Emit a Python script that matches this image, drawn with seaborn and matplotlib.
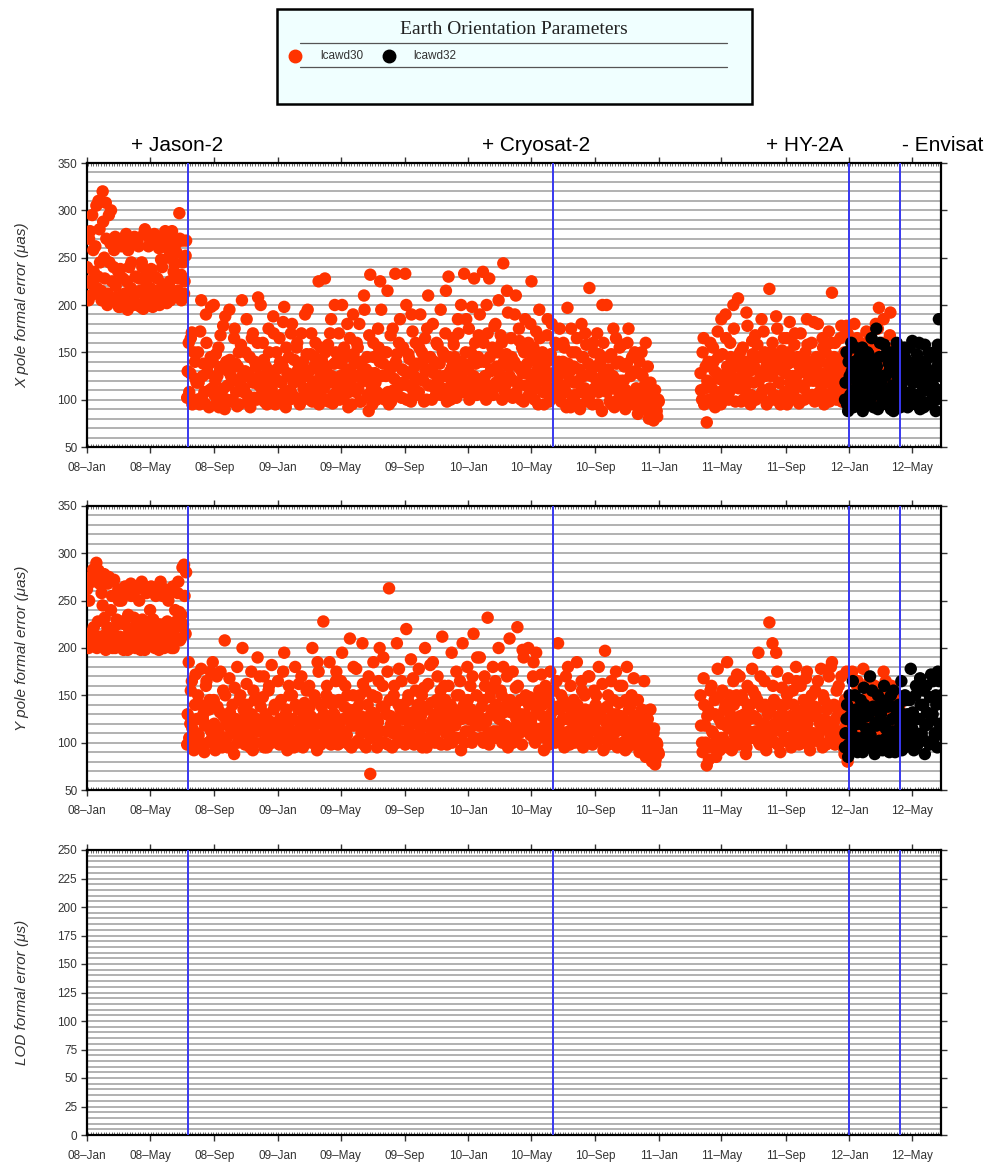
import numpy as np
import pandas as pd
import matplotlib
matplotlib.use("Agg")
import matplotlib.pyplot as plt
import matplotlib.dates as mdates
from matplotlib.ticker import MultipleLocator
from matplotlib.lines import Line2D
from matplotlib.patches import Rectangle
import seaborn as sns

# ---------------- data ----------------
# Two interleaved 3-day samplings per segment (list "…2" is one day later).
solutions = ["lcawd30", "lcawd32"]
colors = ["#FF3300", "#000000"]

seg_starts = ["2008-01-01", "2008-07-11", "2011-03-22"]   # lcawd30 segments
seg_starts_2 = ["2008-01-02", "2008-07-12", "2011-03-23"]
lcawd32_start = "2011-12-24"
lcawd32_start_2 = "2011-12-25"

x30_a = [240, 205, 278, 222, 258, 212, 305, 230, 280, 215, 320,
         250, 308, 200, 295, 265, 225, 240, 272, 208, 235,
         198, 262, 228, 212, 275, 195, 240, 218, 265, 205,
         230, 200, 262, 215, 245, 196, 280, 222, 208, 270,
         238, 198, 275, 212, 228, 260, 205, 240, 218, 278,
         202, 250, 225, 272, 210, 243, 265, 215, 297, 232,
         268, 212, 252]
x30_a2 = [225, 270, 210, 295, 235, 262, 218, 310, 245, 205, 288,
          228, 270, 212, 245, 300, 205, 258, 220, 268, 198,
          238, 210, 270, 202, 225, 258, 215, 245, 200, 272,
          212, 268, 228, 198, 240, 275, 205, 232, 262, 218,
          205, 265, 230, 215, 272, 200, 248, 222, 268, 210,
          260, 220, 205, 278, 235, 212, 255, 228, 270, 205,
          245, 225, 268]
x30_b = [102, 160, 128, 171, 98, 140, 118,
         150, 95, 205, 125, 108, 190, 135, 92, 145, 112,
         200, 120, 98, 155, 132, 105, 178, 90, 140, 115,
         195, 125, 100, 165, 138, 93, 150, 118, 205, 108,
         130, 185, 97, 145, 122, 170, 102, 135, 160, 115,
         200, 108, 142, 125, 95, 175, 130, 112, 188, 100,
         150, 120, 165, 105, 135, 198, 92, 128, 145, 110,
         180, 118, 102, 155, 132, 95, 170, 140, 108, 125,
         195, 112, 148, 98, 135, 160, 120, 225, 105, 142,
         128, 228, 100, 158, 118, 185, 96, 138, 150, 110,
         170, 125, 200, 102, 145, 132, 92, 165, 115, 190,
         138, 108, 155, 180, 98, 130, 210, 120, 145, 88,
         232, 112, 160, 128, 100, 175, 140, 195, 105, 150,
         125, 215, 95, 168, 135, 110, 233, 148, 118, 185,
         102, 155, 130, 200, 115, 143, 98, 172, 125, 160,
         138, 108, 190, 150, 120, 165, 100, 210, 132, 115,
         180, 140, 105, 158, 125, 195, 112, 148, 170, 98,
         230, 130, 118, 165, 145, 102, 185, 135, 200, 122,
         233, 150, 110, 175, 138, 198, 125, 160, 105, 145,
         190, 118, 235, 140, 100, 170, 228, 130, 155, 112,
         180, 135, 205, 120, 160, 244, 108, 148, 192, 125,
         165, 102, 140, 210, 118, 175, 132, 155, 98, 185,
         128, 160, 112, 225, 145, 100, 172, 138, 195, 120,
         150, 95, 130, 168, 110, 142, 180, 102, 125, 158,
         118, 175, 98, 140, 155, 108, 197, 128, 92, 150,
         135, 105, 165, 120, 90, 180, 145, 112, 158, 100,
         218, 130, 95, 150, 122, 170, 108, 140, 88, 160,
         115, 200, 132, 98, 148, 125, 92, 165, 110, 140,
         105, 158, 120, 90, 138, 175, 100, 128, 95, 150,
         112, 85, 140, 100, 125, 92, 160, 105, 80, 118,
         95, 78, 110, 88, 100]
x30_b2 = [130, 108, 165, 95, 150, 122, 100,
          118, 172, 102, 138, 96, 160, 128, 110, 198, 140,
          105, 148, 125, 92, 168, 135, 112, 188, 100, 130,
          142, 98, 120, 175, 108, 135, 95, 158, 125, 112,
          150, 105, 128, 92, 165, 118, 140, 100, 208, 125,
          115, 160, 98, 135, 120, 150, 105, 128, 170, 95,
          132, 98, 140, 118, 182, 108, 155, 125, 100, 170,
          105, 142, 128, 160, 98, 120, 135, 112, 190, 148,
          128, 100, 170, 118, 145, 108, 132, 95, 155, 122,
          112, 150, 135, 98, 170, 125, 105, 200, 140, 118,
          100, 138, 115, 155, 122, 180, 108, 130, 95, 148,
          125, 160, 112, 98, 140, 120, 195, 132, 105, 168,
          128, 95, 145, 118, 108, 155, 225, 125, 138, 100,
          150, 108, 130, 98, 175, 122, 140, 105, 160, 115,
          132, 118, 233, 100, 148, 128, 190, 110, 135, 120,
          105, 155, 122, 140, 98, 130, 175, 115, 145, 100,
          128, 112, 160, 120, 138, 105, 150, 125, 215, 110,
          145, 100, 135, 158, 112, 128, 170, 118, 140, 108,
          120, 185, 132, 100, 150, 115, 228, 138, 122, 168,
          140, 108, 160, 125, 200, 115, 145, 132, 105, 178,
          118, 150, 128, 168, 100, 140, 115, 215, 135, 105,
          145, 120, 190, 108, 135, 162, 100, 128, 150, 115,
          138, 105, 180, 122, 155, 112, 130, 95, 165, 142,
          108, 135, 120, 185, 98, 148, 125, 112, 160, 132,
          140, 105, 128, 160, 115, 92, 138, 120, 175, 100,
          118, 150, 95, 132, 108, 145, 125, 170, 98, 138,
          105, 125, 160, 112, 135, 95, 148, 118, 200, 128,
          130, 108, 145, 118, 95, 175, 122, 138, 100, 155,
          120, 95, 135, 110, 160, 98, 125, 145, 105, 130,
          98, 128, 108, 150, 90, 115, 100, 135, 95, 110,
          88, 102, 92, 82, 98]
x30_c = [128, 100, 165, 112,
         76, 140, 118, 98, 155, 130, 105, 172, 122, 95,
         148, 110, 190, 135, 100, 160, 125, 200, 115, 142,
         207, 120, 98, 155, 132, 108, 178, 140, 95, 162,
         118, 168, 102, 145, 128, 185, 110, 150, 135, 98,
         217, 125, 160, 105, 140, 175, 118, 95, 152, 130,
         108, 165, 138, 182, 100, 125, 158, 115, 145, 96,
         170, 130, 112, 150, 185, 102, 138, 160, 120, 98,
         145, 180, 108, 128, 165, 95, 150, 118, 172, 135,
         213, 112, 160, 100, 142, 125, 178, 105, 150, 130,
         170, 118, 95, 155, 135, 108, 165, 125, 145, 100,
         150, 115, 172, 130, 98, 160, 138, 112, 180, 125,
         197, 140, 108, 185, 128, 155, 102, 168, 135, 118,
         150, 112, 132, 105]
x30_c2 = [110, 150, 95, 135, 120, 100, 160, 112, 140, 92, 128, 145, 108, 185,
          120, 100, 165, 130, 108, 145, 118, 175, 98, 135,
          112, 150, 125, 100, 140, 192, 118, 130, 105, 148,
          135, 100, 158, 120, 145, 108, 172, 125, 95, 140,
          112, 150, 128, 100, 188, 135, 118, 145, 105, 165,
          128, 95, 150, 118, 140, 108, 170, 125, 100, 135,
          115, 145, 100, 128, 158, 120, 140, 105, 182, 130,
          120, 100, 140, 115, 155, 125, 105, 138, 98, 160,
          125, 145, 105, 135, 118, 165, 98, 140, 112, 178,
          130, 105, 145, 115, 180, 98, 138, 120, 160, 110,
          128, 100, 145, 118, 165, 108, 135, 150, 98, 175,
          140, 112, 160, 125, 100, 148, 130, 192, 115, 138,
          120, 145, 100, 128]
x32 = [100, 150, 88, 125, 160, 110, 140, 95, 130, 115,
       105, 155, 92, 135, 120, 148, 100, 165, 112, 128,
       175, 90, 145, 118, 102, 158, 125, 95, 138, 110,
       150, 88, 130, 160, 105, 142, 115, 98, 155, 122,
       92, 135, 108, 162, 125, 100, 148, 118, 90, 140,
       112, 158, 130, 95, 145, 120, 105, 150, 88, 135, 185, 110]
x32_2 = [118, 95, 140, 105, 130, 92, 155, 120, 100, 145,
         125, 88, 138, 110, 150, 98, 128, 140, 92, 118,
         135, 105, 160, 95, 125, 110, 148, 100, 130, 90,
         115, 140, 100, 125, 150, 92, 135, 108, 145, 98,
         128, 155, 95, 118, 140, 105, 130, 160, 100, 122,
         92, 138, 110, 150, 98, 130, 115, 145, 100, 158, 125, 140]

y30_a = [262, 200, 275, 215, 283, 205, 290, 228, 268, 210, 245,
         278, 198, 222, 275, 208, 255, 215, 200, 230, 262,
         212, 250, 202, 225, 258, 198, 218, 268, 205, 232,
         200, 262, 215, 205, 270, 222, 198, 258, 210, 228,
         265, 202, 220, 255, 208, 198, 270, 215, 225, 262,
         205, 250, 218, 200, 265, 212, 228, 258, 238, 210,
         285, 288, 215]
y30_a2 = [215, 250, 208, 270, 222, 278, 200, 282, 212, 258, 205,
          232, 215, 268, 205, 240, 200, 272, 212, 225, 250,
          205, 228, 198, 265, 210, 235, 200, 255, 215, 222,
          218, 205, 250, 198, 230, 212, 262, 202, 220, 240,
          212, 230, 200, 262, 215, 225, 205, 255, 200, 218,
          228, 205, 258, 215, 200, 240, 222, 270, 208, 235,
          225, 255, 280]
y30_b = [98, 185, 120, 165, 95, 140, 110,
         150, 100, 178, 125, 90, 160, 118, 135, 175, 105,
         145, 92, 170, 115, 132, 100, 155, 208, 122, 95,
         168, 110, 140, 88, 125, 180, 102, 150, 118, 135,
         98, 162, 128, 108, 175, 92, 145, 120, 190, 112,
         138, 100, 170, 125, 95, 155, 115, 182, 105, 140,
         120, 165, 98, 145, 110, 195, 130, 92, 160, 105,
         150, 112, 180, 100, 135, 122, 170, 95, 142, 118,
         102, 160, 128, 200, 110, 145, 92, 175, 125, 138,
         228, 105, 150, 118, 185, 98, 140, 130, 165, 112,
         145, 100, 195, 125, 160, 108, 135, 210, 95, 150,
         118, 178, 102, 140, 128, 205, 98, 155, 115, 170,
         67, 132, 185, 108, 148, 122, 200, 100, 160, 138,
         112, 175, 263, 128, 95, 150, 118, 205, 140, 105,
         165, 125, 100, 220, 145, 110, 188, 132, 98, 155,
         120, 178, 105, 150, 138, 200, 95, 162, 115, 142,
         185, 108, 130, 170, 100, 155, 212, 122, 145, 98,
         160, 118, 195, 135, 105, 175, 128, 150, 92, 205,
         140, 112, 180, 125, 160, 100, 215, 132, 150, 118,
         190, 105, 145, 170, 122, 232, 98, 155, 135, 112,
         165, 128, 200, 108, 150, 180, 118, 140, 95, 210,
         132, 175, 105, 158, 222, 120, 145, 98, 190, 130,
         112, 200, 148, 125, 170, 102, 195, 138, 155, 115,
         128, 92, 160, 110, 145, 175, 100, 135, 120, 165,
         205, 108, 150, 125, 95, 170, 138, 112, 160, 102,
         145, 118, 185, 100, 132, 165, 95, 150, 122, 108,
         170, 128, 98, 155, 140, 112, 180, 105, 135, 92,
         197, 120, 150, 100, 165, 130, 110, 175, 95, 142,
         115, 160, 125, 92, 180, 105, 138, 150, 98, 128,
         108, 145, 90, 125, 100, 165, 85, 118, 95, 135,
         80, 110, 77, 100, 90]
y30_b2 = [130, 105, 155, 115, 92, 172, 125,
          108, 140, 95, 130, 118, 165, 100, 145, 112, 185,
          120, 100, 138, 110, 175, 95, 128, 150, 105, 118,
          132, 95, 112, 158, 120, 100, 145, 110, 200, 125,
          105, 140, 118, 95, 130, 155, 100, 125, 112, 170,
          118, 148, 95, 130, 108, 160, 122, 100, 135, 112,
          140, 100, 125, 112, 175, 98, 135, 118, 150, 108,
          125, 95, 140, 108, 162, 118, 100, 130, 112, 155,
          118, 138, 100, 125, 150, 108, 185, 120, 98, 140,
          130, 112, 160, 100, 128, 145, 108, 120, 175, 98,
          120, 165, 105, 138, 112, 150, 98, 128, 118, 180,
          135, 100, 125, 150, 110, 162, 118, 95, 140, 128,
          105, 150, 118, 128, 95, 165, 112, 138, 190, 100,
          130, 98, 145, 120, 110, 160, 125, 100, 178, 135,
          112, 140, 98, 130, 150, 118, 105, 168, 125, 100,
          140, 110, 128, 95, 158, 118, 135, 105, 182, 122,
          125, 100, 145, 115, 138, 98, 128, 160, 110, 135,
          112, 140, 100, 128, 118, 150, 105, 165, 125, 138,
          100, 128, 145, 112, 135, 170, 105, 120, 190, 128,
          118, 138, 100, 160, 125, 110, 148, 130, 180, 105,
          140, 112, 125, 155, 100, 132, 118, 170, 108, 145,
          115, 100, 138, 125, 160, 110, 130, 198, 118, 150,
          125, 140, 108, 118, 185, 100, 132, 145, 112, 172,
          140, 105, 120, 150, 98, 130, 112, 155, 100, 138,
          118, 135, 100, 145, 110, 125, 180, 98, 130, 115,
          100, 128, 140, 108, 120, 155, 98, 135, 112, 170,
          115, 100, 135, 120, 150, 102, 128, 110, 162, 125,
          108, 138, 98, 125, 112, 145, 100, 130, 118, 160,
          128, 100, 112, 145, 95, 135, 118, 105, 168, 110,
          120, 98, 108, 135, 92, 115, 100, 125, 88, 105,
          95, 115, 82, 98, 88]
y30_c = [150, 100, 168, 118, 76, 135, 95, 160, 110, 145, 85, 178, 125, 105,
         155, 98, 140, 185, 115, 130, 92, 165, 108, 150,
         120, 170, 100, 145, 130, 88, 160, 112, 140, 178,
         105, 150, 125, 195, 98, 138, 115, 165, 92, 130,
         227, 110, 205, 145, 100, 175, 128, 90, 158, 118,
         140, 102, 168, 125, 95, 155, 112, 180, 132, 98,
         160, 118, 145, 100, 175, 128, 92, 150, 110, 138,
         102, 165, 125, 178, 95, 145, 115, 135, 170, 108,
         185, 120, 98, 155, 130, 105, 170, 140, 88, 118,
         80, 150, 112, 175, 125, 98, 160, 135, 105, 145,
         178, 118, 140, 100, 165, 128, 95, 150, 112, 138,
         122, 155, 105, 175, 130, 92, 145, 115, 160, 100,
         135, 110, 150, 98]
y30_c2 = [118, 90, 140, 100, 128, 82, 155, 112, 98, 130, 105, 148, 92, 120,
          105, 135, 118, 95, 150, 125, 100, 140, 112, 172,
          98, 128, 150, 108, 118, 95, 138, 125, 105, 155,
          128, 112, 145, 100, 170, 120, 105, 140, 118, 100,
          135, 105, 160, 120, 195, 98, 140, 112, 130, 102,
          118, 150, 105, 128, 100, 140, 120, 165, 108, 125,
          100, 135, 112, 168, 120, 98, 140, 105, 128, 155,
          135, 108, 120, 100, 150, 125, 98, 140, 112, 180,
          108, 140, 125, 100, 160, 112, 130, 95, 145, 175,
          115, 100, 130, 92, 140, 108, 165, 120, 100, 135,
          105, 128, 95, 150, 112, 138, 100, 160, 120, 108,
          140, 100, 128, 112, 165, 105, 135, 98, 125, 150,
          112, 128, 100, 140]
y32 = [95, 125, 85, 150, 110, 165, 100, 135, 90, 120,
       145, 105, 158, 95, 128, 112, 170, 100, 138, 88,
       118, 150, 102, 130, 92, 160, 115, 98, 140, 108,
       125, 155, 90, 135, 112, 100, 165, 120, 95, 145,
       130, 108, 178, 115, 92, 150, 125, 100, 168, 110,
       140, 88, 160, 120, 98, 172, 130, 105, 150, 95, 165, 112]
y32_2 = [110, 140, 98, 128, 92, 118, 150, 105, 135, 100,
         125, 90, 140, 115, 98, 130, 108, 155, 92, 120,
         135, 100, 125, 145, 95, 118, 105, 138, 90, 150,
         112, 98, 128, 105, 140, 118, 92, 130, 150, 108,
         120, 145, 100, 132, 110, 160, 98, 125, 140, 105,
         155, 118, 132, 100, 148, 125, 165, 110, 140, 175, 120, 150]

event_dates = ["2008-07-12", "2010-06-12", "2012-01-01", "2012-04-08"]
event_labels = ["+ Jason-2", "+ Cryosat-2", "+ HY-2A", "- Envisat"]

panel_ylabels = ["X pole formal error (\u03bcas)", "Y pole formal error (\u03bcas)",
                 "LOD formal error (\u03bcs)"]
panel_ylims = [(50, 350), (50, 350), (0, 250)]
panel_major = [50, 50, 25]
panel_minor = [10, 10, 5]
legend_title = "Earth Orientation Parameters"


def frame(start, vals, name):
    return pd.DataFrame({"date": pd.date_range(start, periods=len(vals), freq="3D"),
                         "value": vals, "solution": name})


def build(a, a2, b, b2, c, c2, d, d2):
    parts = []
    for starts, lists in ((seg_starts, (a, b, c)), (seg_starts_2, (a2, b2, c2))):
        for s, v in zip(starts, lists):
            parts.append(frame(s, v, solutions[0]))
    parts.append(frame(lcawd32_start, d, solutions[1]))
    parts.append(frame(lcawd32_start_2, d2, solutions[1]))
    return pd.concat(parts, ignore_index=True)


df_x = build(x30_a, x30_a2, x30_b, x30_b2, x30_c, x30_c2, x32, x32_2)
df_y = build(y30_a, y30_a2, y30_b, y30_b2, y30_c, y30_c2, y32, y32_2)

# ---------------- figure ----------------
sns.set_theme(style="white")
plt.rcParams['font.family'] = ['Liberation Sans', 'DejaVu Sans']

W, H = 1001, 1163
fig = plt.figure(figsize=(W / 100, H / 100), dpi=100)
fig.patch.set_facecolor("white")


def fx(px):
    return px / W


def fy(py):
    return 1 - py / H


rects = [(87, 163, 941, 447), (87, 506, 941, 790), (87, 850, 941, 1135)]
axes = [fig.add_axes([fx(l), fy(b), fx(r - l), (b - t) / H]) for (l, t, r, b) in rects]

palette = dict(zip(solutions, colors))
xmin, xmax = pd.Timestamp("2008-01-01"), pd.Timestamp("2012-06-25")

for i, ax in enumerate(axes):
    if i < 2:
        df = [df_x, df_y][i]
        sns.scatterplot(data=df, x="date", y="value", hue="solution", hue_order=solutions,
                        palette=palette, s=80, linewidth=0, alpha=1, ax=ax, legend=False,
                        zorder=3)
    ax.set_xlim(xmin, xmax)
    ax.set_ylim(*panel_ylims[i])
    ax.yaxis.set_major_locator(MultipleLocator(panel_major[i]))
    ax.yaxis.set_minor_locator(MultipleLocator(panel_minor[i]))
    ax.grid(False)
    ax.grid(axis="y", which="both", color="#ABABAB", lw=1.3, zorder=1)
    ax.set_axisbelow(True)
    for d in event_dates:
        ax.axvline(pd.Timestamp(d), color="#3838F0", lw=1.4, zorder=4)
    ax.xaxis.set_major_locator(mdates.MonthLocator(bymonth=[1, 5, 9]))
    ax.xaxis.set_major_formatter(mdates.DateFormatter("%y\u2013%b"))
    ax.xaxis.set_minor_locator(mdates.DayLocator(interval=5))
    ax.tick_params(axis="both", which="major", direction="out", length=4, width=1,
                   color="#333333", labelsize=8.5, labelcolor="#333333",
                   top=True, right=True, bottom=True, left=True, pad=3)
    ax.tick_params(axis="x", which="major", pad=7)
    ax.tick_params(axis="x", which="minor", direction="in", length=2, width=0.6,
                   color="#555555", top=True, bottom=True)
    ax.tick_params(axis="y", which="minor", length=0)
    ax.set_xlabel("")
    ax.set_ylabel(panel_ylabels[i], fontsize=11, style="italic", color="#333333")
    ax.yaxis.set_label_coords(-0.068, 0.5)
    for sp in ax.spines.values():
        sp.set_visible(True)
        sp.set_color("black")
        sp.set_linewidth(1.6)

# satellite annotations above the first panel
label_px = [131, 482, 766, 902]
for lab, px in zip(event_labels, label_px):
    fig.text(fx(px), fy(145), lab, fontsize=15, ha="left", va="center", color="black")

# legend box
fig.add_artist(Rectangle((fx(277), fy(104)), fx(752 - 277), (104 - 9) / H,
                         transform=fig.transFigure, facecolor="#F0FFFF",
                         edgecolor="black", lw=1.8, zorder=0))
fig.text(fx(514), fy(29), legend_title, family=["Liberation Serif", "DejaVu Serif"],
         fontsize=14, ha="center", va="center", color="#222222")
for yy in (43, 67):
    fig.add_artist(Line2D([fx(300), fx(727)], [fy(yy), fy(yy)], transform=fig.transFigure,
                          color="#555555", lw=0.9))
for (mx, tx), name, col in zip([(295, 320), (389, 413)], solutions, colors):
    fig.add_artist(Line2D([fx(mx)], [fy(56)], transform=fig.transFigure, marker="o",
                          ms=9, color=col, lw=0))
    fig.text(fx(tx), fy(56), name, fontsize=8.5, ha="left", va="center", color="#333333")

fig.savefig("out.png", dpi=100)
